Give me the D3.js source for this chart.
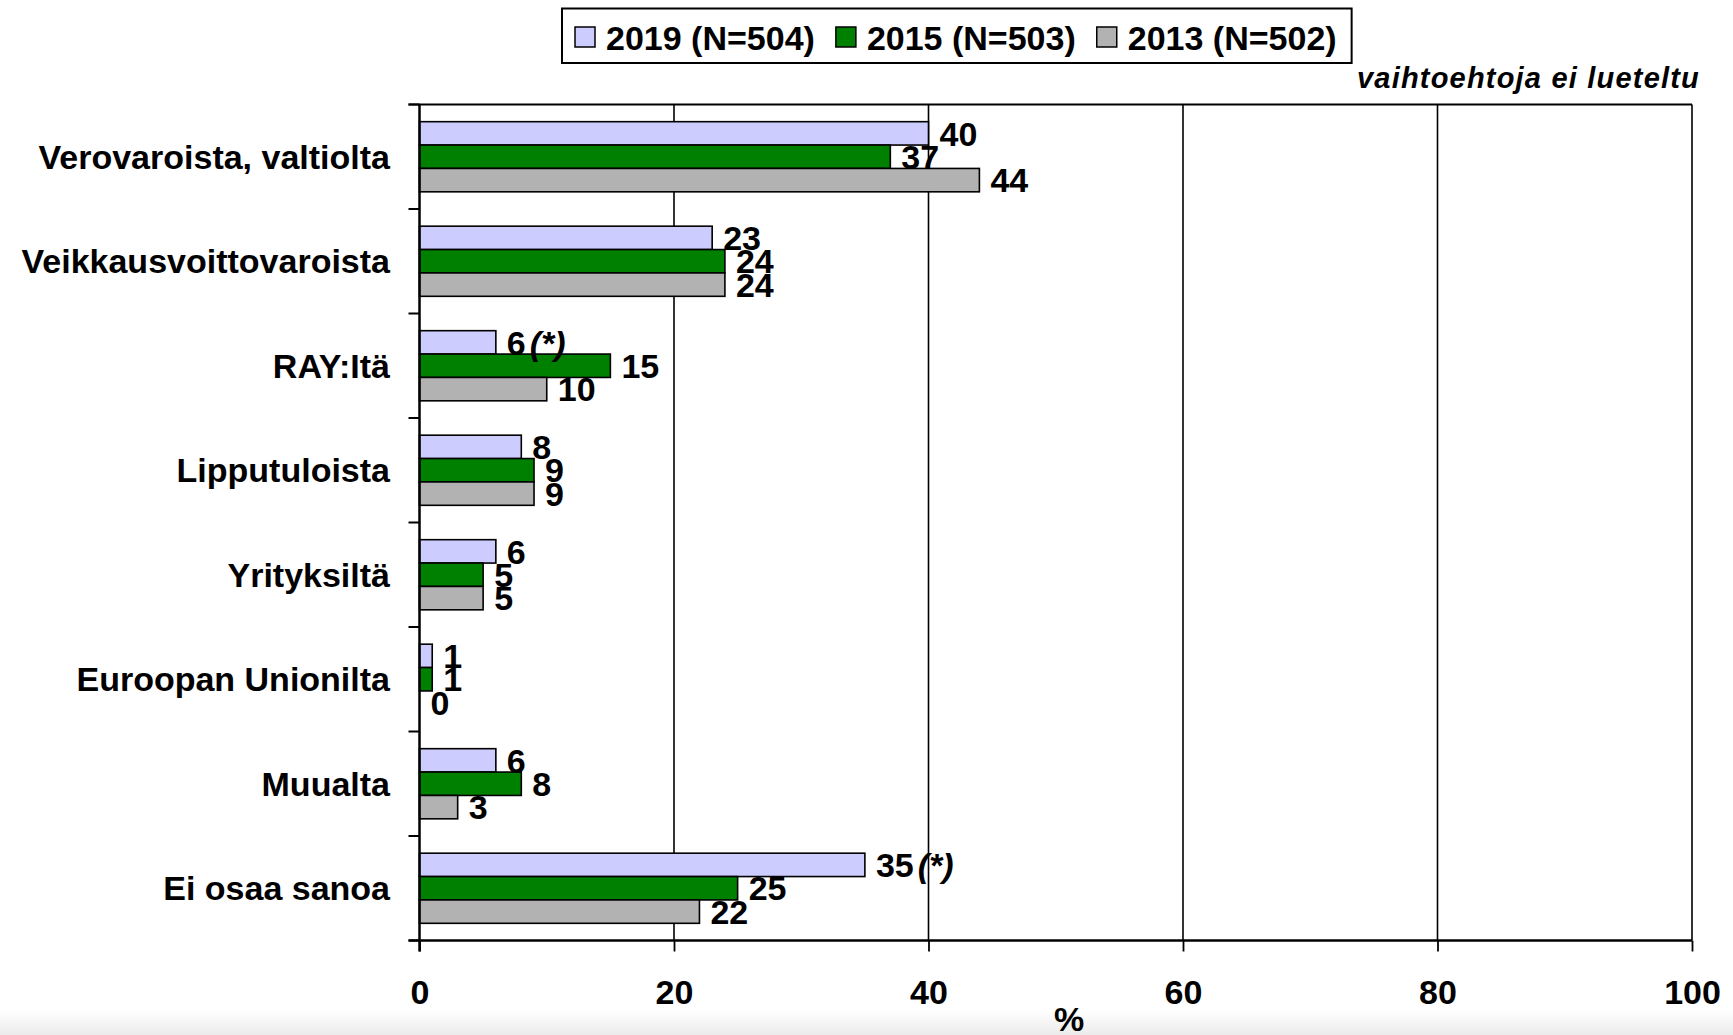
<!DOCTYPE html>
<html>
<head>
<meta charset="utf-8">
<script src="https://cdn.jsdelivr.net/npm/d3@7/dist/d3.min.js"></script>
<style>
  html, body { margin: 0; padding: 0; background: #fff; }
  svg { display: block; }
  text { font-family: "Liberation Sans", Arial, Helvetica, sans-serif; font-weight: bold; fill: #000; }
</style>
</head>
<body>
<svg id="chart" width="1733" height="1035"></svg>
<script>
const categories = ["Verovaroista, valtiolta", "Veikkausvoittovaroista", "RAY:Itä", "Lipputuloista", "Yrityksiltä", "Euroopan Unionilta", "Muualta", "Ei osaa sanoa"];
const seriesNames = ["2019 (N=504)", "2015 (N=503)", "2013 (N=502)"];
const seriesColors = ["#CCCCFF", "#008000", "#B2B2B2"];
const values2019 = [40, 23, 6, 8, 6, 1, 6, 35];
const values2015 = [37, 24, 15, 9, 5, 1, 8, 25];
const values2013 = [44, 24, 10, 9, 5, 0, 3, 22];
const notes2019 = ["", "", "(*)", "", "", "", "", "(*)"];
const xTicks = [0, 20, 40, 60, 80, 100];
const axisTitle = "%";
const noteText = "vaihtoehtoja ei lueteltu";

(function () {
const seriesValues = [values2019, values2015, values2013];
const seriesNotes = [notes2019, categories.map(() => ""), categories.map(() => "")];

const svg = d3.select("#chart");
const pL = 419.5, pR = 1692, pT = 104.5, pB = 940.5;

const x = d3.scaleLinear().domain([0, 100]).range([pL, pR]);
const y = d3.scaleBand().domain(categories).range([pT, pB]).padding(0);
const ySeries = d3.scaleBand().domain(seriesNames).range([0, y.bandwidth()]).paddingInner(0).paddingOuter(0.735);

// bottom background shade
const defs = svg.append("defs");
const grad = defs.append("linearGradient").attr("id", "shade").attr("x1", 0).attr("y1", 0).attr("x2", 0).attr("y2", 1);
grad.append("stop").attr("offset", "0%").attr("stop-color", "#ffffff");
grad.append("stop").attr("offset", "100%").attr("stop-color", "#ebebeb");
svg.append("rect").attr("x", 0).attr("y", 1010).attr("width", 1733).attr("height", 25).attr("fill", "url(#shade)");

// gridlines
svg.append("g").selectAll("line").data(xTicks.filter(d => d > 0)).join("line")
  .attr("x1", d => x(d)).attr("x2", d => x(d))
  .attr("y1", pT).attr("y2", pB)
  .attr("stroke", "#000").attr("stroke-width", 1.6);

// top border
svg.append("line").attr("x1", pL - 11).attr("x2", pR).attr("y1", pT).attr("y2", pT)
  .attr("stroke", "#000").attr("stroke-width", 2);

// bars
seriesNames.forEach((name, si) => {
  const rows = categories.map((c, ci) => ({ cat: c, v: seriesValues[si][ci], note: seriesNotes[si][ci] }));
  svg.append("g").attr("fill", seriesColors[si]).selectAll("rect").data(rows).join("rect")
    .attr("x", x(0))
    .attr("y", d => y(d.cat) + ySeries(name))
    .attr("width", d => x(d.v) - x(0))
    .attr("height", ySeries.bandwidth())
    .attr("stroke", d => d.v > 0 ? "#000" : "none")
    .attr("stroke-width", 1.6);
});

// value labels
seriesNames.forEach((name, si) => {
  const rows = categories.map((c, ci) => ({ cat: c, v: seriesValues[si][ci], note: seriesNotes[si][ci] }));
  const lbl = svg.append("g").selectAll("text").data(rows).join("text")
    .attr("x", d => x(d.v) + 11)
    .attr("y", d => y(d.cat) + ySeries(name) + ySeries.bandwidth() / 2)
    .attr("dy", "0.36em")
    .attr("font-size", 34);
  lbl.append("tspan").text(d => d.v);
  lbl.filter(d => d.note !== "").append("tspan")
    .attr("dx", 4).attr("font-style", "italic")
    .text(d => d.note);
});

// left axis line and ticks
svg.append("line").attr("x1", pL).attr("x2", pL).attr("y1", pT).attr("y2", pB + 11)
  .attr("stroke", "#000").attr("stroke-width", 2.5);
const bounds = categories.map(c => y(c)).concat([pB]);
svg.append("g").selectAll("line").data(bounds).join("line")
  .attr("x1", pL - 11).attr("x2", pL).attr("y1", d => d).attr("y2", d => d)
  .attr("stroke", "#000").attr("stroke-width", 2);

// category labels
svg.append("g").selectAll("text").data(categories).join("text")
  .attr("x", 390)
  .attr("y", d => y(d) + y.bandwidth() / 2)
  .attr("dy", "0.36em")
  .attr("text-anchor", "end")
  .attr("font-size", 34)
  .text(d => d);

// bottom axis
const xAxis = d3.axisBottom(x).tickValues(xTicks).tickSize(11).tickPadding(28).tickSizeOuter(0);
const gx = svg.append("g").attr("transform", `translate(0,${pB})`).call(xAxis);
gx.select(".domain").remove();
gx.selectAll(".tick line").attr("stroke", "#000").attr("stroke-width", 1.8);
gx.selectAll(".tick text").attr("font-size", 34).attr("font-family", null).attr("fill", "#000");
svg.append("line").attr("x1", pL - 11).attr("x2", pR).attr("y1", pB).attr("y2", pB)
  .attr("stroke", "#000").attr("stroke-width", 2.5);

// axis title
svg.append("text").attr("x", 1069).attr("y", 1031).attr("text-anchor", "middle")
  .attr("font-size", 34).text(axisTitle);

// note text
svg.append("text").attr("x", 1700).attr("y", 88).attr("text-anchor", "end")
  .attr("font-size", 29).attr("font-style", "italic").attr("letter-spacing", 1.2)
  .text(noteText);

// legend
const legend = svg.append("g");
const legendBox = legend.append("rect").attr("x", 562).attr("y", 8.5).attr("height", 54.5)
  .attr("fill", "#fff").attr("stroke", "#000").attr("stroke-width", 2);
let lx = 575;
const gap = 21;
seriesNames.forEach((name, i) => {
  legend.append("rect").attr("x", lx).attr("y", 27).attr("width", 20).attr("height", 20)
    .attr("fill", seriesColors[i]).attr("stroke", "#000").attr("stroke-width", 1.5);
  const t = legend.append("text").attr("x", lx + 31).attr("y", 50).attr("font-size", 34).text(name);
  const w = t.node().getComputedTextLength();
  lx = lx + 31 + w + gap;
});
legendBox.attr("width", lx - gap + 15 - 562);
})();
</script>
</body>
</html>
